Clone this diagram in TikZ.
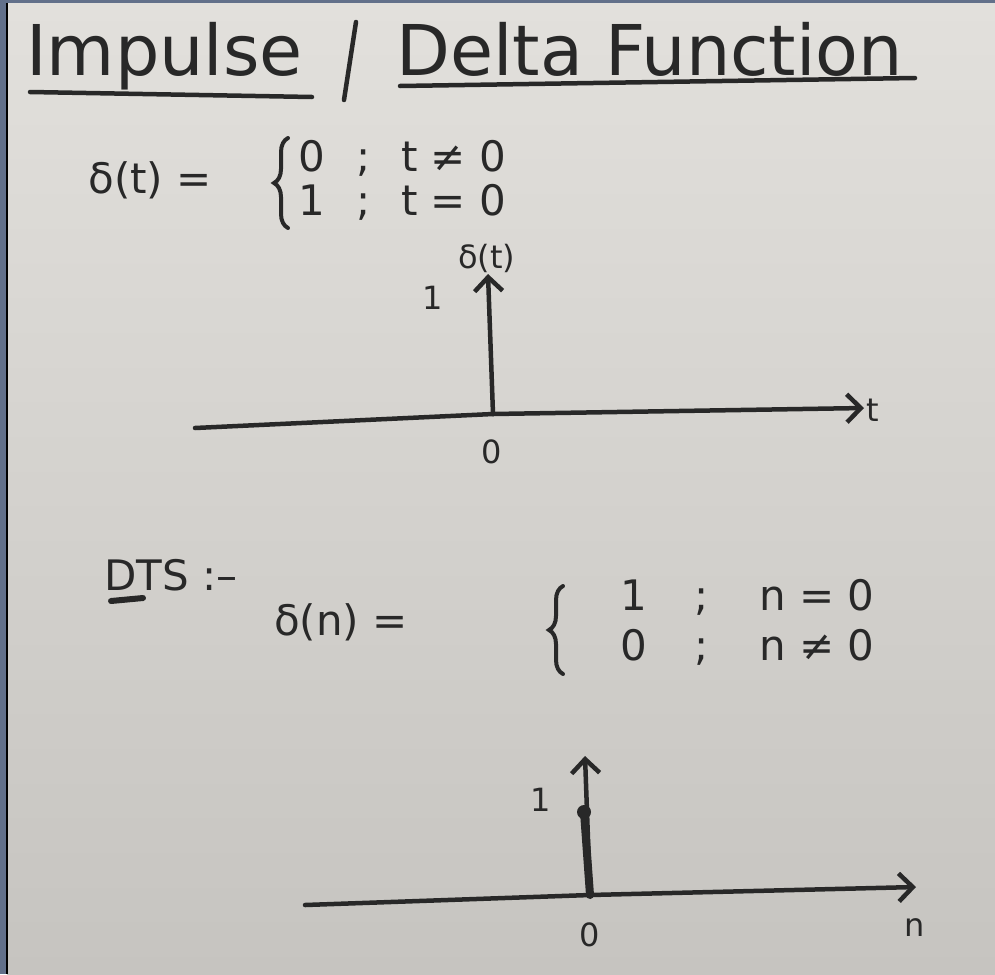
\documentclass[tikz,border=0pt]{standalone}
\usepackage{fontspec}
\setmainfont{DejaVu Sans}
\usepackage{tikz}
\usetikzlibrary{
  arrows.meta,
  positioning,
  calc,
  decorations.pathreplacing
}
\definecolor{inkcolor}{RGB}{40, 40, 40}
\definecolor{papertop}{RGB}{226, 224, 220}
\definecolor{paperbottom}{RGB}{198, 196, 192}
\definecolor{framecolor}{RGB}{98, 112, 138}
\tikzset{
titletext/.style={
  font=\fontsize{70}{76}\selectfont,
  text=inkcolor,
  inner sep=0pt
},
casetext/.style={
  font=\fontsize{42}{42}\selectfont,
  text=inkcolor,
  inner sep=0pt
},
ticktext/.style={
  font=\fontsize{32}{36}\selectfont,
  text=inkcolor,
  inner sep=0pt
},
inkline/.style={
  draw=inkcolor,
  line width=4.5pt,
  line cap=round
},
axisarrow/.style={
  inkline,
  -{Straight Barb[length=14pt,width=28pt,line width=4.5pt]}
},
stemline/.style={
  draw=inkcolor,
  line width=8pt,
  line cap=round
},
casebrace/.style={
  inkline,
  line width=4pt,
  decorate,
  decoration={brace, amplitude=14pt}
}
}
\begin{document}
\begin{tikzpicture}[x=1pt, y=-1pt]
  \fill[framecolor] (0,0) rectangle (995,974);
  \shade[top color=papertop, bottom color=paperbottom] (7,3) rectangle (995,974);
  \draw[black, line width=1.5pt] (7,974) -- (7,3);
  \useasboundingbox (0,0) rectangle (995,974);

  \node[titletext, anchor=base west] (impulse) at (26,75) {Impulse};
  \node[titletext, anchor=base west] (delta) at (396,75) {Delta Function};
  \draw[inkline] (356,22) -- (344,100);
  \draw[inkline] (30,92) -- (312,97);
  \draw[inkline] (400,86) -- (915,78);

  \node[casetext, anchor=east] (ctlhs) at (212,180) {δ(t) =};
  \draw[casebrace] (288,228) -- (288,138);
  \node[casetext, anchor=west] (ctcases) at (298,184) {%
    \begin{tabular}{@{}l@{\hspace{32pt}}l@{\hspace{30pt}}l@{}}
      0 & ; & t ≠ 0\\
      1 & ; & t = 0
    \end{tabular}};

  \coordinate (ctleft) at (195,428);
  \coordinate (ctorigin) at (493,414);
  \coordinate (ctright) at (864,408);
  \coordinate (cttop) at (488,274);
  \draw[inkline] (ctleft) -- (ctorigin);
  \draw[axisarrow] (ctorigin) -- (ctright);
  \draw[axisarrow] (ctorigin) -- (cttop);
  \node[ticktext, anchor=west] (ctlabel) at (458,258) {δ(t)};
  \node[ticktext] (ctone) at (433,298) {1};
  \node[ticktext] (ctzero) at (492,452) {0};
  \node[ticktext, anchor=west] (ctaxis) at (866,410) {t};

  \node[casetext, anchor=base west] (dtstitle) at (104,590) {DTS :–};
  \draw[inkline, line width=6pt] (111,601) -- (143,598);
  \node[casetext, anchor=east] (dtlhs) at (408,622) {δ(n) =};
  \draw[casebrace] (563,674) -- (563,586);
  \node[casetext, anchor=west] (dtcases) at (620,626) {%
    \begin{tabular}{@{}l@{\hspace{48pt}}l@{\hspace{50pt}}l@{}}
      1 & ; & n = 0\\[6pt]
      0 & ; & n ≠ 0
    \end{tabular}};

  \coordinate (dtleft) at (305,905);
  \coordinate (dtorigin) at (590,895);
  \coordinate (dtright) at (916,887);
  \coordinate (dttop) at (585,756);
  \coordinate (dtdot) at (584,812);
  \draw[inkline] (dtleft) -- (dtorigin);
  \draw[axisarrow] (dtorigin) -- (dtright);
  \draw[axisarrow] (dtorigin) -- (dttop);
  \draw[stemline] (dtorigin) -- (dtdot);
  \fill[inkcolor] (dtdot) circle (7);
  \node[ticktext] (dtone) at (541,800) {1};
  \node[ticktext] (dtzero) at (590,935) {0};
  \node[ticktext] (dtaxis) at (915,928) {n};
\end{tikzpicture}
\end{document}
